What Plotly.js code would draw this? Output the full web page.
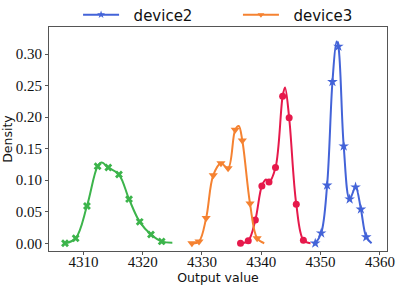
<!DOCTYPE html>
<html>
<head>
<meta charset="utf-8">
<script src="https://cdn.plot.ly/plotly-3.0.1.min.js"></script>
<style>html,body{margin:0;padding:0;background:#fff;}#chart{width:399px;height:288px;}</style>
</head>
<body>
<div id="chart"></div>
<script>
// device0 (green)
var d0MarkX = [4306.9, 4308.7, 4310.6, 4312.4, 4314.2, 4316.0, 4317.7, 4319.5, 4321.4, 4323.2];
var d0MarkY = [0.000, 0.008, 0.059, 0.122, 0.120, 0.109, 0.070, 0.034, 0.014, 0.003];
var d0CurveX = [4306.9, 4308.7, 4310.6, 4312.4, 4313.1, 4314.2, 4316.0, 4317.7, 4319.5, 4321.4, 4323.2, 4325.0];
var d0CurveY = [0.000, 0.008, 0.059, 0.122, 0.128, 0.120, 0.109, 0.070, 0.034, 0.014, 0.003, 0.001];
// device1 (red)
var d1MarkX = [4336.5, 4337.8, 4339.0, 4340.1, 4341.3, 4342.4, 4343.6, 4344.7, 4345.9, 4347.1];
var d1MarkY = [0.000, 0.004, 0.037, 0.091, 0.097, 0.120, 0.233, 0.199, 0.062, 0.005];
var d1CurveX = [4336.5, 4337.8, 4339.0, 4340.1, 4340.8, 4341.3, 4342.4, 4343.6, 4344.0, 4344.7, 4345.9, 4347.1, 4348.3];
var d1CurveY = [0.000, 0.004, 0.037, 0.091, 0.101, 0.097, 0.120, 0.233, 0.247, 0.199, 0.062, 0.005, 0.000];
// device2 (blue)
var d2MarkX = [4349.1, 4350.1, 4351.1, 4352.0, 4353.0, 4353.9, 4354.9, 4355.9, 4356.8, 4357.7];
var d2MarkY = [0.000, 0.016, 0.092, 0.256, 0.312, 0.154, 0.070, 0.089, 0.054, 0.010];
var d2CurveX = [4349.1, 4350.1, 4351.1, 4352.0, 4352.7, 4353.0, 4353.9, 4354.9, 4355.9, 4356.8, 4357.7, 4358.6];
var d2CurveY = [0.000, 0.016, 0.092, 0.256, 0.320, 0.312, 0.154, 0.070, 0.089, 0.054, 0.010, 0.000];
// device3 (orange)
var d3MarkX = [4328.3, 4329.5, 4330.7, 4331.9, 4333.2, 4334.4, 4335.6, 4336.8, 4338.1, 4339.3];
var d3MarkY = [0.000, 0.003, 0.040, 0.108, 0.127, 0.119, 0.180, 0.163, 0.063, 0.008];
var d3CurveX = [4328.3, 4329.5, 4330.7, 4331.9, 4333.2, 4334.4, 4335.6, 4336.2, 4336.8, 4338.1, 4339.3, 4340.5];
var d3CurveY = [0.000, 0.003, 0.040, 0.108, 0.127, 0.119, 0.180, 0.186, 0.163, 0.063, 0.008, 0.000];

var seriesNames = ['device0', 'device1', 'device2', 'device3'];
var colors = ['#3cb44b', '#e6194b', '#4363d8', '#f58231'];
var symbols = ['x', 'circle', 'star', 'triangle-down'];
var sizes = [7, 7, 8, 8];
var legendRefs = [null, null, 'legend', 'legend2'];

var sets = [
  [d0CurveX, d0CurveY, d0MarkX, d0MarkY],
  [d1CurveX, d1CurveY, d1MarkX, d1MarkY],
  [d2CurveX, d2CurveY, d2MarkX, d2MarkY],
  [d3CurveX, d3CurveY, d3MarkX, d3MarkY]
];

var traces = [];
sets.forEach(function(s, i) {
  traces.push({x: s[0], y: s[1], mode: 'lines', type: 'scatter',
    line: {color: colors[i], width: 2, shape: 'spline', smoothing: 1},
    showlegend: false, hoverinfo: 'skip'});
  traces.push({x: s[2], y: s[3], mode: 'markers', type: 'scatter',
    marker: {color: colors[i], symbol: symbols[i], size: sizes[i], line: {width: 0}},
    showlegend: false});
});
sets.forEach(function(s, i) {
  if (legendRefs[i]) {
    traces.push({x: [null], y: [null], mode: 'lines+markers', type: 'scatter',
      name: '\u00a0\u00a0' + seriesNames[i],
      legend: legendRefs[i],
      line: {color: colors[i], width: 2},
      marker: {color: colors[i], symbol: symbols[i], size: 6}, showlegend: true});
  }
});

var serif = 'serif';
var sans = 'DejaVu Sans';
var tickFont = {family: serif, size: 15, color: '#111'};
var legendFont = {family: sans, size: 15, color: '#111'};
var layout = {
  width: 399, height: 288,
  margin: {l: 49, r: 12, t: 27, b: 37, autoexpand: false},
  paper_bgcolor: '#fff', plot_bgcolor: '#fff',
  font: {family: sans},
  showlegend: true,
  legend: {orientation: 'h', x: 0.086, xanchor: 'left', y: 1.054, yanchor: 'middle',
    font: legendFont, bgcolor: 'rgba(0,0,0,0)', itemwidth: 36},
  legend2: {orientation: 'h', x: 0.559, xanchor: 'left', y: 1.054, yanchor: 'middle',
    font: legendFont, bgcolor: 'rgba(0,0,0,0)', itemwidth: 36},
  xaxis: {range: [4304.2, 4361.2], tickvals: [4310, 4320, 4330, 4340, 4350, 4360],
    showgrid: false, zeroline: false, showline: true, mirror: true, linecolor: '#555', linewidth: 1,
    ticks: 'outside', ticklen: 3, tickcolor: '#555', tickfont: tickFont, ticklabelstandoff: -6,
    title: {text: 'Output value', font: {family: sans, size: 12.5, color: '#111'}, standoff: 0}},
  yaxis: {range: [-0.0122, 0.3428], tickvals: [0, 0.05, 0.10, 0.15, 0.20, 0.25, 0.30], tickformat: '.2f',
    showgrid: false, zeroline: false, showline: true, mirror: true, linecolor: '#555', linewidth: 1,
    ticks: 'outside', ticklen: 3, tickcolor: '#555', tickfont: tickFont,
    title: {text: 'Density', font: {family: sans, size: 12.5, color: '#111'}, standoff: 0}}
};

Plotly.newPlot('chart', traces, layout, {staticPlot: true, displayModeBar: false});
</script>
</body>
</html>
